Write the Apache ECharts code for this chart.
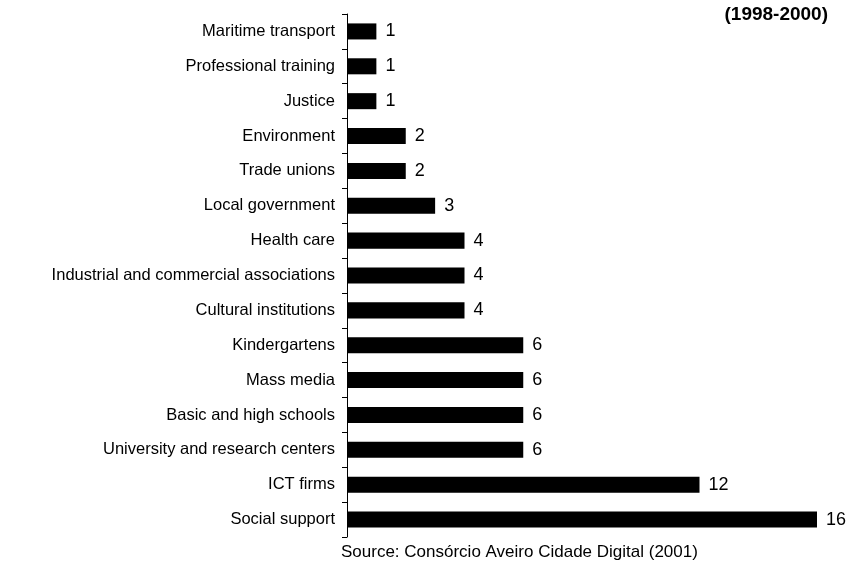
<!DOCTYPE html>
<html>
<head>
<meta charset="utf-8">
<script src="https://cdn.jsdelivr.net/npm/echarts@6/dist/echarts.min.js"></script>
<style>
  html, body { margin: 0; padding: 0; background: #fff; }
  #chart { width: 849px; height: 561px; }
</style>
</head>
<body>
<div id="chart"></div>
<script>
  // categories, top to bottom
  var categories = [
    'Maritime transport',
    'Professional training',
    'Justice',
    'Environment',
    'Trade unions',
    'Local government',
    'Health care',
    'Industrial and commercial associations',
    'Cultural institutions',
    'Kindergartens',
    'Mass media',
    'Basic and high schools',
    'University and research centers',
    'ICT firms',
    'Social support'
  ];
  var counts = [1, 1, 1, 2, 2, 3, 4, 4, 4, 6, 6, 6, 6, 12, 16];
  var periodLabel = '(1998-2000)';
  var sourceLabel = 'Source: Consórcio Aveiro Cidade Digital (2001)';

  var chart = echarts.init(document.getElementById('chart'));
  chart.setOption({
    animation: false,
    textStyle: { fontFamily: 'Liberation Sans, Arial, sans-serif' },
    title: [
      {
        text: periodLabel,
        right: 21,
        top: 5,
        padding: 0,
        textStyle: { fontSize: 19, fontWeight: 'bold', color: '#000' }
      },
      {
        text: sourceLabel,
        left: 341,
        top: 543,
        padding: 0,
        textStyle: { fontSize: 17, fontWeight: 'normal', color: '#000', lineHeight: 18 }
      }
    ],
    grid: {
      left: 347,
      top: 14,
      width: 470,
      bottom: 24,
      containLabel: false
    },
    xAxis: {
      type: 'value',
      min: 0,
      max: 16,
      show: false
    },
    yAxis: {
      type: 'category',
      inverse: true,
      data: categories,
      axisLine: { show: true, lineStyle: { color: '#000', width: 1 } },
      axisTick: { show: true, length: 5, lineStyle: { color: '#000' } },
      axisLabel: { color: '#000', fontSize: 16.5, margin: 12 }
    },
    series: [
      {
        type: 'bar',
        data: counts,
        barCategoryGap: '54%',
        itemStyle: { color: '#000' },
        label: {
          show: true,
          position: 'right',
          distance: 9,
          color: '#000',
          fontSize: 18
        }
      }
    ]
  });
</script>
</body>
</html>
